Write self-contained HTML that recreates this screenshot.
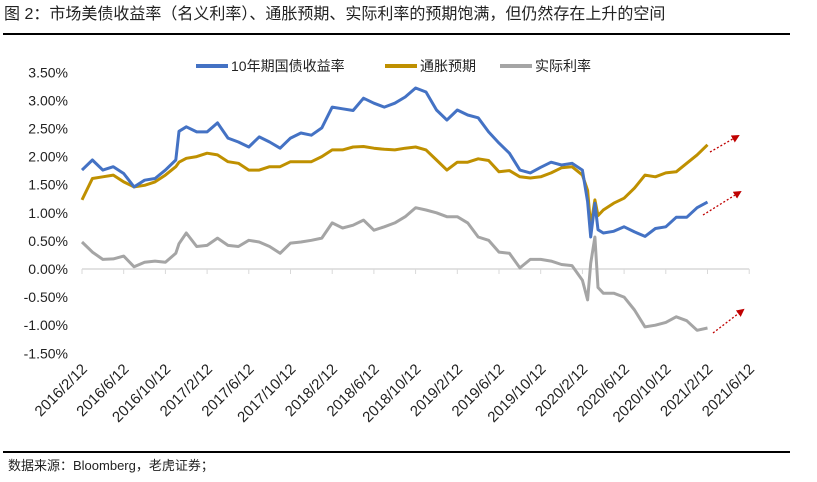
<!DOCTYPE html>
<html><head><meta charset="utf-8"><style>
body{margin:0;background:#fff;width:817px;height:477px;overflow:hidden;font-family:"Liberation Sans","Noto Sans CJK SC",sans-serif}
</style></head><body>
<svg width="817" height="477" xmlns="http://www.w3.org/2000/svg" style="font-family:'Liberation Sans','Noto Sans CJK SC',sans-serif">
<text x="4" y="19" font-size="16" fill="#222">图 2：市场美债收益率（名义利率）、通胀预期、实际利率的预期饱满，但仍然存在上升的空间</text>
<line x1="3" y1="34" x2="790" y2="34" stroke="#000" stroke-width="2"/>
<line x1="3" y1="452" x2="790" y2="452" stroke="#000" stroke-width="2"/>
<text x="8" y="470" font-size="13" fill="#222">数据来源：Bloomberg，老虎证券；</text>
<g>
<line x1="196" y1="66" x2="228" y2="66" stroke="#4472C4" stroke-width="4"/>
<text x="231" y="71" font-size="14" fill="#222">10年期国债收益率</text>
<line x1="385" y1="66" x2="417" y2="66" stroke="#BF9000" stroke-width="4"/>
<text x="420" y="71" font-size="14" fill="#222">通胀预期</text>
<line x1="500" y1="66" x2="532" y2="66" stroke="#A5A5A5" stroke-width="4"/>
<text x="535" y="71" font-size="14" fill="#222">实际利率</text>
</g>
<g id="yaxis"></g><g id="xaxis"></g><g id="series"></g>
<defs><marker id="ah" markerWidth="8" markerHeight="8" refX="6" refY="4" orient="auto" markerUnits="userSpaceOnUse"><path d="M0,0 L8,4 L0,8 Z" fill="#C00000"/></marker></defs>
<g>
<line x1="710" y1="152" x2="738" y2="136" stroke="#C00000" stroke-width="1.3" stroke-dasharray="2,2" marker-end="url(#ah)"/>
<line x1="703" y1="215" x2="740" y2="192" stroke="#C00000" stroke-width="1.3" stroke-dasharray="2,2" marker-end="url(#ah)"/>
<line x1="713" y1="333" x2="743" y2="310" stroke="#C00000" stroke-width="1.3" stroke-dasharray="2,2" marker-end="url(#ah)"/>
</g>
</svg>
<script>
const yTicks=[3.5,3,2.5,2,1.5,1,0.5,0,-0.5,-1,-1.5];
const xTickLabels=["2016/2/12","2016/6/12","2016/10/12","2017/2/12","2017/6/12","2017/10/12","2018/2/12","2018/6/12","2018/10/12","2019/2/12","2019/6/12","2019/10/12","2020/2/12","2020/6/12","2020/10/12","2021/2/12","2021/6/12"];
const months=[0,1,2,3,4,5,6,7,8,9,9.3,10,11,12,13,14,15,16,17,18,19,20,21,22,23,24,25,26,27,28,29,30,31,32,33,34,35,36,37,38,39,40,41,42,43,44,45,46,47,48,48.5,48.8,49.2,49.5,50,51,52,53,54,55,56,57,58,59,60];
const nominal=[1.76,1.94,1.76,1.82,1.70,1.46,1.58,1.61,1.76,1.94,2.45,2.53,2.44,2.44,2.60,2.33,2.26,2.17,2.35,2.26,2.15,2.33,2.42,2.38,2.51,2.88,2.85,2.82,3.04,2.95,2.88,2.95,3.06,3.22,3.15,2.83,2.65,2.83,2.74,2.69,2.44,2.24,2.06,1.76,1.71,1.81,1.90,1.85,1.88,1.76,1.20,0.57,1.17,0.70,0.64,0.67,0.75,0.66,0.58,0.72,0.75,0.92,0.92,1.09,1.19];
const inflation=[1.23,1.61,1.64,1.67,1.55,1.46,1.49,1.55,1.67,1.82,1.90,1.97,2.00,2.06,2.03,1.91,1.88,1.76,1.76,1.82,1.82,1.91,1.91,1.91,2.00,2.12,2.12,2.17,2.18,2.15,2.13,2.12,2.15,2.17,2.12,1.94,1.76,1.90,1.90,1.96,1.93,1.73,1.75,1.64,1.62,1.64,1.71,1.80,1.82,1.67,1.40,0.75,1.23,0.95,1.05,1.17,1.26,1.44,1.67,1.64,1.71,1.73,1.88,2.03,2.21];
const real=[0.48,0.30,0.17,0.18,0.23,0.04,0.12,0.14,0.12,0.28,0.45,0.64,0.40,0.42,0.55,0.42,0.40,0.51,0.48,0.40,0.28,0.46,0.48,0.51,0.55,0.82,0.73,0.78,0.87,0.69,0.75,0.82,0.93,1.09,1.05,1.00,0.93,0.93,0.82,0.57,0.51,0.30,0.28,0.02,0.17,0.17,0.14,0.08,0.06,-0.20,-0.55,0.10,0.57,-0.33,-0.43,-0.43,-0.50,-0.73,-1.03,-1.00,-0.95,-0.85,-0.92,-1.09,-1.05];
const NS="http://www.w3.org/2000/svg";
const x0=82,mPx=41.7/4,y0=269,pPx=56.2;
function X(m){return x0+m*mPx}
function Y(v){return y0-v*pPx}
function el(t,a,p){const e=document.createElementNS(NS,t);for(const k in a)e.setAttribute(k,a[k]);p.appendChild(e);return e}
const ya=document.getElementById('yaxis');
yTicks.forEach(v=>{const t=el('text',{x:68,y:Y(v)+5,'font-size':14,'text-anchor':'end',fill:'#222'},ya);t.textContent=v.toFixed(2)+'%';

});
const xa=document.getElementById('xaxis');
const ax=el('line',{x1:X(0),y1:y0,x2:X(64),y2:y0,stroke:'#D9D9D9','stroke-width':1.5},xa);


xTickLabels.forEach((l,i)=>{const tx=X(i*4);
const tk=el('line',{x1:tx,y1:y0,x2:tx,y2:y0+5,stroke:'#D9D9D9','stroke-width':1},xa);


const t=el('text',{x:0,y:0,'font-size':15,'text-anchor':'end',fill:'#222',transform:`translate(${tx+6},370) rotate(-45)`},xa);t.textContent=l;

});
const sg=document.getElementById('series');
[[real,'#A5A5A5','real-rate-line'],[inflation,'#BF9000','inflation-expectation-line'],[nominal,'#4472C4','nominal-yield-line']].forEach(([d,c,n])=>{
const pts=d.map((v,i)=>X(months[i]).toFixed(1)+','+Y(v).toFixed(1)).join(' ');
const p=el('polyline',{points:pts,fill:'none',stroke:c,'stroke-width':3,'stroke-linejoin':'round'},sg);

});
</script>
</body></html>
